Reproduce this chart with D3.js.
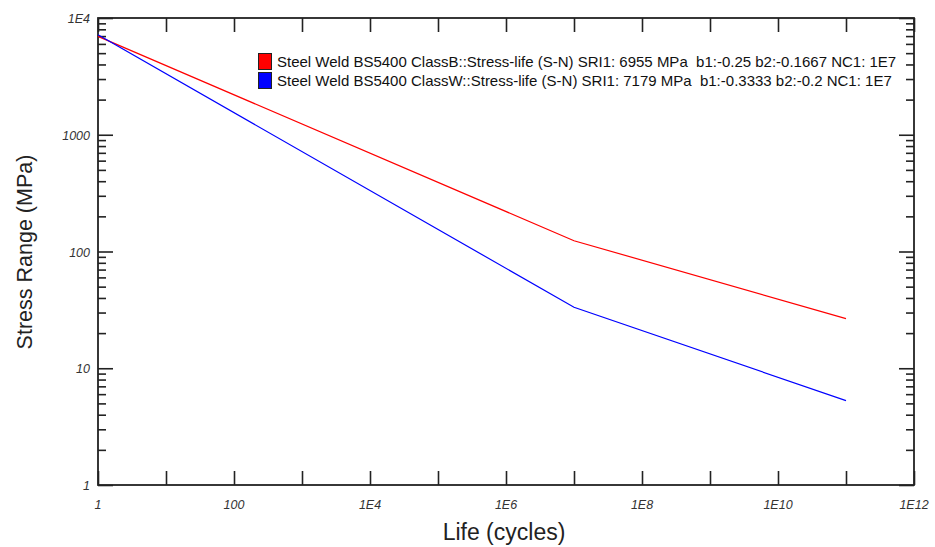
<!DOCTYPE html>
<html><head><meta charset="utf-8">
<script src="https://cdn.jsdelivr.net/npm/d3@7"></script>
<style>body{margin:0;background:#fff;}svg{display:block;font-family:"Liberation Sans",Arial,sans-serif;}</style>
</head><body><svg id="c" width="935" height="547"></svg>
<script>
const lifeCycles = [1, 1e7, 1e11];
const classB = [6955, 123.7, 26.6];
const classW = [7179, 33.3, 5.28];
const seriesNames = [
  "Steel Weld BS5400 ClassB::Stress-life (S-N) SRI1: 6955 MPa  b1:-0.25 b2:-0.1667 NC1: 1E7",
  "Steel Weld BS5400 ClassW::Stress-life (S-N) SRI1: 7179 MPa  b1:-0.3333 b2:-0.2 NC1: 1E7"
];
const seriesColors = ["#ff0000", "#0000ff"];
const xTickValues = [1, 1e2, 1e4, 1e6, 1e8, 1e10, 1e12];
const xTickLabels = ["1", "100", "1E4", "1E6", "1E8", "1E10", "1E12"];
const yTickValues = [1, 10, 100, 1000, 1e4];
const yTickLabels = ["1", "10", "100", "1000", "1E4"];

const svg = d3.select("#c");
const L = 98, R = 914, T = 18, B = 485;
const x = d3.scaleLog().domain([1, 1e12]).range([L, R]);
const y = d3.scaleLog().domain([1, 1e4]).range([B, T]);
const axisColor = "#222";

const xDecades = d3.range(0, 13).map(e => Math.pow(10, e));
svg.append("g").attr("transform", `translate(0,${B})`)
  .call(d3.axisBottom(x).tickValues(xDecades).tickSizeInner(-14).tickSizeOuter(0).tickFormat(""));
svg.append("g").attr("transform", `translate(0,${T})`)
  .call(d3.axisTop(x).tickValues(xDecades).tickSizeInner(-14).tickSizeOuter(0).tickFormat(""));

const yMinor = [];
for (let e = 0; e < 4; e++) for (let m = 2; m <= 9; m++) yMinor.push(m * Math.pow(10, e));
function yAxes(scaleAxis, tx) {
  svg.append("g").attr("transform", `translate(${tx},0)`)
    .call(scaleAxis(y).tickValues(yMinor).tickSizeInner(-8).tickSizeOuter(0).tickFormat(""));
  svg.append("g").attr("transform", `translate(${tx},0)`)
    .call(scaleAxis(y).tickValues(yTickValues).tickSizeInner(-15).tickSizeOuter(0).tickFormat(""));
}
yAxes(d3.axisLeft, L);
yAxes(d3.axisRight, R);

svg.selectAll(".domain").remove();
svg.selectAll(".tick line").attr("stroke", axisColor).attr("stroke-width", 1.6);

svg.append("rect").attr("x", L).attr("y", T).attr("width", R - L).attr("height", B - T)
  .attr("fill", "none").attr("stroke", axisColor).attr("stroke-width", 1.8);

svg.append("g").selectAll("text").data(xTickValues).join("text")
  .attr("x", d => x(d)).attr("y", B + 24).attr("text-anchor", "middle")
  .attr("font-size", 12.5).attr("font-style", "italic").attr("fill", "#333")
  .text((d, i) => xTickLabels[i]);
svg.append("g").selectAll("text").data(yTickValues).join("text")
  .attr("x", L - 8).attr("y", d => y(d) + 5).attr("text-anchor", "end")
  .attr("font-size", 12.5).attr("font-style", "italic").attr("fill", "#333")
  .text((d, i) => yTickLabels[i]);

svg.append("text").attr("x", 504).attr("y", 540).attr("text-anchor", "middle")
  .attr("font-size", 23).attr("fill", "#222").text("Life (cycles)");
svg.append("text").attr("transform", "translate(32,252) rotate(-90)").attr("text-anchor", "middle")
  .attr("font-size", 21.5).attr("fill", "#222").text("Stress Range (MPa)");

const line = d3.line().x(d => x(d[0])).y(d => y(d[1]));
[classB, classW].forEach((vals, i) => {
  svg.append("path").datum(lifeCycles.map((n, k) => [n, vals[k]]))
    .attr("d", line).attr("fill", "none").attr("stroke", seriesColors[i]).attr("stroke-width", 1.2);
});

const lg = svg.append("g");
seriesNames.forEach((name, i) => {
  const yy = 53 + i * 19;
  lg.append("rect").attr("x", 258.5).attr("y", yy + 0.5).attr("width", 13).attr("height", 16)
    .attr("fill", seriesColors[i]).attr("stroke", "#222").attr("stroke-width", 1);
  lg.append("text").attr("x", 277).attr("y", yy + 13.5).attr("font-size", 15)
    .attr("fill", "#111").style("white-space", "pre").text(name);
});
</script></body></html>
